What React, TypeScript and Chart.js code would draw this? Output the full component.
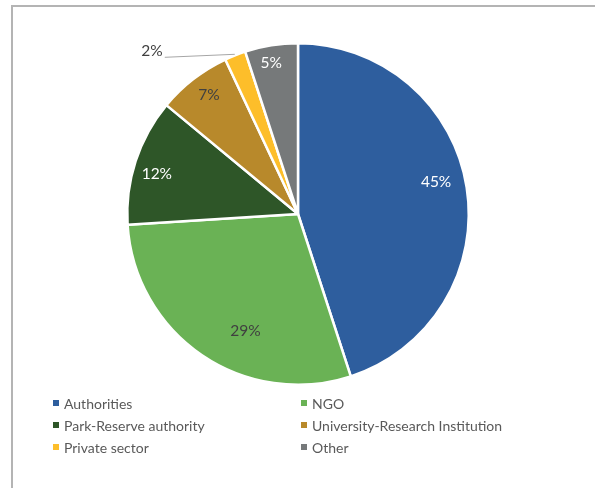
import React, { useEffect, useRef } from "react";
import { Chart, registerables } from "chart.js";

Chart.register(...registerables);

const categories = [
  "Authorities",
  "NGO",
  "Park-Reserve authority",
  "University-Research Institution",
  "Private sector",
  "Other",
];
const values = [45, 29, 12, 7, 2, 5];
const valueLabels = ["45%", "29%", "12%", "7%", "2%", "5%"];
const colors = ["#2E5E9E", "#6AB255", "#2E5628", "#B8892B", "#FDBE2A", "#76797A"];
const labelColors = ["#FFFFFF", "#404040", "#FFFFFF", "#404040", "#404040", "#FFFFFF"];
const labelOutside = [false, false, false, false, true, false];
// label placement styling (fraction of radius, angle shift in degrees)
const labelRadius = [0.83, 0.75, 0.86, 0.87, 1, 0.9];
const labelShift = [-4, -10, -2, 1, 0, -1];
const legendOrder = [0, 1, 2, 3, 4, 5];

const FONT = "Lato, 'Open Sans', sans-serif";

const labelPlugin = {
  id: "sliceLabels",
  afterDatasetsDraw(chart: any) {
    const ctx = chart.ctx;
    const meta = chart.getDatasetMeta(0);
    ctx.save();
    ctx.font = `15.5px ${FONT}`;
    meta.data.forEach((arc: any, i: number) => {
      const { x, y, startAngle, endAngle, outerRadius } = arc.getProps(
        ["x", "y", "startAngle", "endAngle", "outerRadius"],
        true
      );
      const mid = (startAngle + endAngle) / 2 + (labelShift[i] * Math.PI) / 180;
      if (labelOutside[i]) {
        const ex = x + Math.cos(mid) * (outerRadius + 1);
        const ey = y + Math.sin(mid) * (outerRadius + 1);
        const lx = ex - 70;
        const ly = ey + 3;
        ctx.strokeStyle = "#A6A6A6";
        ctx.lineWidth = 1;
        ctx.beginPath();
        ctx.moveTo(ex, ey);
        ctx.lineTo(lx, ly);
        ctx.stroke();
        ctx.fillStyle = labelColors[i];
        ctx.textAlign = "right";
        ctx.textBaseline = "bottom";
        ctx.fillText(valueLabels[i], lx - 2, ly + 1);
      } else {
        const r = outerRadius * labelRadius[i];
        ctx.fillStyle = labelColors[i];
        ctx.textAlign = "center";
        ctx.textBaseline = "middle";
        ctx.fillText(valueLabels[i], x + Math.cos(mid) * r, y + Math.sin(mid) * r);
      }
    });
    ctx.restore();
  },
};

export default function App() {
  const ref = useRef<HTMLCanvasElement>(null);
  useEffect(() => {
    document.body.style.margin = "0";
    const chart = new Chart(ref.current!, {
      type: "pie",
      data: {
        labels: categories,
        datasets: [
          {
            data: values,
            backgroundColor: colors,
            borderColor: "#FFFFFF",
            borderWidth: 2.5,
          },
        ],
      },
      options: {
        animation: false,
        responsive: false,
        maintainAspectRatio: false,
        layout: { padding: { top: 42, bottom: 102, left: 1, right: 0 } },
        plugins: {
          legend: { display: false },
          tooltip: { enabled: false },
        },
      },
      plugins: [labelPlugin],
    });
    return () => chart.destroy();
  }, []);

  return (
    <div style={{ position: "relative", width: 595, height: 488, overflow: "hidden", background: "#fff" }}>
      <div
        style={{
          position: "absolute",
          left: 11,
          top: 5,
          width: 700,
          height: 600,
          border: "2px solid #B4B4B4",
          boxSizing: "border-box",
        }}
      />
      <canvas ref={ref} width={595} height={488} style={{ position: "absolute", left: 0, top: 0 }} />
      {legendOrder.map((idx, k) => {
        const col = k % 2;
        const row = Math.floor(k / 2);
        return (
          <div
            key={idx}
            style={{
              position: "absolute",
              left: col === 0 ? 53 : 301,
              top: 394 + row * 22,
              height: 18,
              display: "flex",
              alignItems: "center",
              fontFamily: FONT,
              fontSize: 14,
              color: "#595959",
              whiteSpace: "nowrap",
            }}
          >
            <span
              style={{
                display: "inline-block",
                width: 6,
                height: 6,
                background: colors[idx],
                marginRight: 5,
              }}
            />
            {categories[idx]}
          </div>
        );
      })}
    </div>
  );
}
